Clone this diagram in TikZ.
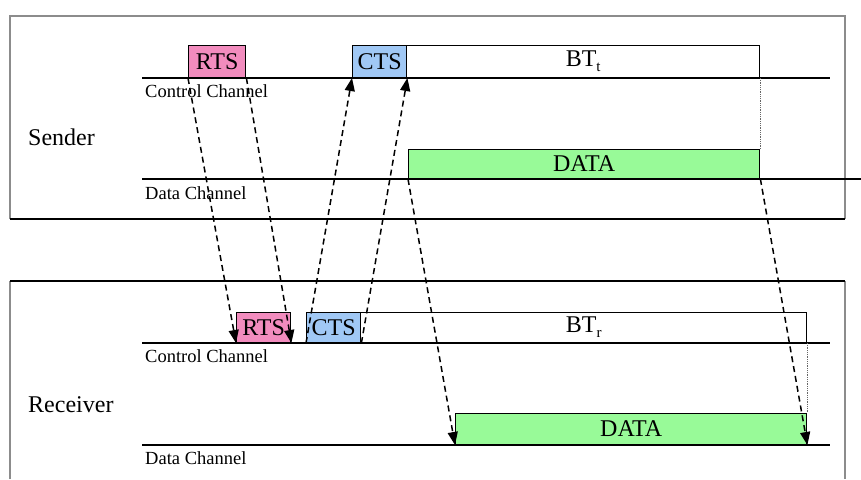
\documentclass[tikz,border=0pt]{standalone}
\usepackage{fontspec}
\setmainfont{Liberation Serif}
\usetikzlibrary{arrows.meta}

\definecolor{rtspink}{RGB}{242,140,190}
\definecolor{ctsblue}{RGB}{160,200,245}
\definecolor{datagreen}{RGB}{152,250,152}
\definecolor{framegray}{RGB}{140,140,140}

% lowered subscript for the busy-tone labels
\newcommand{\lowsub}[1]{\raisebox{-5pt}{\fontsize{15}{15}\selectfont #1}}

\tikzset{
  slot/.style={draw=black, line width=1.4pt, inner sep=0pt, anchor=south west,
               font=\fontsize{24}{24}\selectfont},
  chan/.style={line width=1.4pt},
  chanlabel/.style={anchor=north west, inner sep=0pt, font=\fontsize{18.5}{18.5}\selectfont},
  sidelabel/.style={anchor=west, inner sep=0pt, font=\fontsize{24}{24}\selectfont},
  sig/.style={line width=1.5pt, dash pattern=on 6pt off 4pt,
              -{Triangle[length=13pt,width=10pt]}},
  endmark/.style={line width=0.8pt, densely dotted, black!60},
  frameside/.style={line width=2pt, framegray},
  framebase/.style={line width=2pt, black}
}

\begin{document}
\begin{tikzpicture}[x=1pt,y=-1pt]
\useasboundingbox (0,0) rectangle (861,479);

% sender frame
\draw[frameside] (10,219) -- (10,16) -- (845,16) -- (845,219);
\draw[framebase] (10,219) -- (845,219);
% receiver frame (runs off the bottom)
\draw[frameside] (10,479) -- (10,281);
\draw[frameside] (845,281) -- (845,479);
\draw[framebase] (10,281) -- (845,281);

% channel lines
\coordinate (sc0) at (142,78);  \coordinate (sc1) at (830,78);
\coordinate (sd0) at (142,179); \coordinate (sd1) at (861,179);
\coordinate (rc0) at (142,343); \coordinate (rc1) at (830,343);
\coordinate (rd0) at (142,445); \coordinate (rd1) at (830,445);
\draw[chan] (sc0) -- (sc1);
\draw[chan] (sd0) -- (sd1);
\draw[chan] (rc0) -- (rc1);
\draw[chan] (rd0) -- (rd1);

% labels
\node[sidelabel] (sender) at (28,137) {Sender};
\node[sidelabel] (receiver) at (28,405) {Receiver};
\node[chanlabel] (scl) at (145,84) {Control Channel};
\node[chanlabel] (sdl) at (145,186) {Data Channel};
\node[chanlabel] (rcl) at (145,349) {Control Channel};
\node[chanlabel] (rdl) at (145,451) {Data Channel};

% sender slots
\node[slot, fill=rtspink, minimum width=57pt, minimum height=32pt] (rtsS) at (188,78) {RTS};
\node[slot, fill=ctsblue, minimum width=54pt, minimum height=32pt] (ctsS) at (352,78) {CTS};
\node[slot, fill=white, minimum width=353pt, minimum height=32pt] (btS) at (406,78) {BT\lowsub{t}};
\node[slot, fill=datagreen, minimum width=351pt, minimum height=29pt] (dataS) at (408,179) {DATA};

% receiver slots
\node[slot, fill=rtspink, minimum width=54pt, minimum height=30pt] (rtsR) at (236,343) {RTS};
\node[slot, fill=ctsblue, minimum width=54pt, minimum height=30pt] (ctsR) at (306,343) {CTS};
\node[slot, fill=white, minimum width=446pt, minimum height=30pt] (btR) at (360,343) {BT\lowsub{r}};
\node[slot, fill=datagreen, minimum width=351pt, minimum height=31pt] (dataR) at (455,445) {DATA};

% end of the busy tone down to the end of the data
\draw[endmark] (btS.south east) -- (dataS.north east);
\draw[endmark] (btR.south east) -- (dataR.north east);

% signalling between sender and receiver
\draw[sig] (rtsS.south west) -- (rtsR.south west);
\draw[sig] (rtsS.south east) -- (rtsR.south east);
\draw[sig] (ctsR.south west) -- (ctsS.south west);
\draw[sig] (ctsR.south east) -- (ctsS.south east);
\draw[sig] (dataS.south west) -- (dataR.south west);
\draw[sig] (dataS.south east) -- (dataR.south east);
\end{tikzpicture}
\end{document}
